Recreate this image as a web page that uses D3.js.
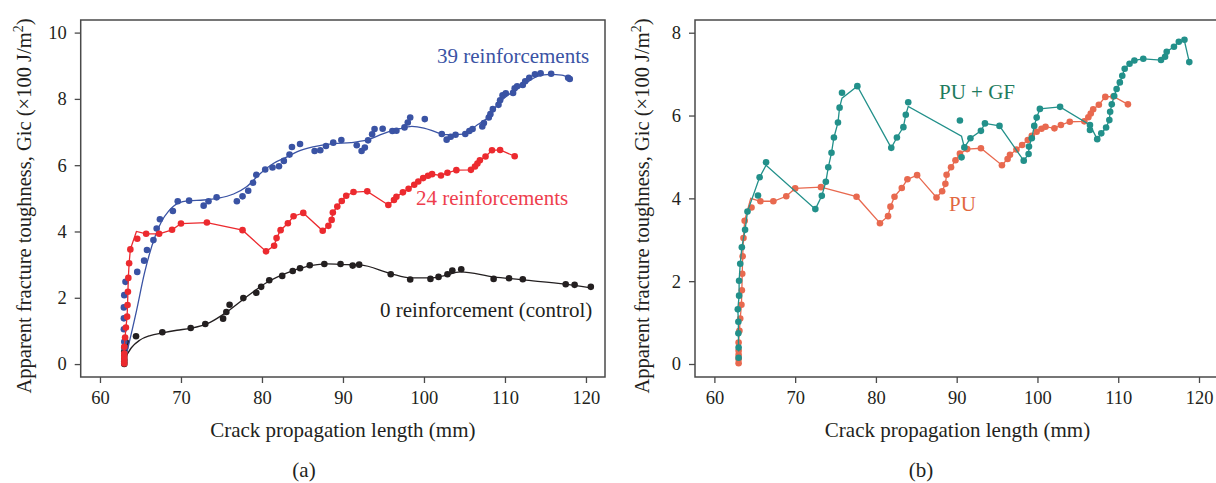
<!DOCTYPE html>
<html><head><meta charset="utf-8">
<script src="https://cdn.jsdelivr.net/npm/d3@7"></script>
<style>
body{margin:0;background:#fff}
svg{display:block}
text{font-family:"Liberation Serif","Times New Roman",serif}
</style>
</head><body>
<svg id="c" width="1216" height="483"></svg>
<script>
// ---------- DATA (x = crack length mm, y = Gic ×100 J/m²) ----------
const xTicks = [60, 70, 80, 90, 100, 110, 120];
const yTicksA = [0, 2, 4, 6, 8, 10];
const yTicksB = [0, 2, 4, 6, 8];

// Panel (a): 39 reinforcements (dots + smooth fit)
const reinf39 = [[63.0,0.5],[63.0,0.67],[62.95,1.05],[62.95,1.38],[62.95,1.71],[63.0,2.08],[63.15,2.48],
[64.6,2.78],[65.45,3.12],[65.8,3.44],[66.6,3.74],[67.0,4.09],[67.4,4.37],[69.0,4.62],[69.6,4.91],[71.0,4.93],
[72.8,4.78],[73.4,4.91],[74.4,5.03],[76.9,4.91],[77.6,5.06],[78.3,5.23],[78.9,5.47],[79.3,5.71],[80.4,5.87],
[81.3,5.93],[82.1,5.97],[82.7,6.13],[83.4,6.32],[83.7,6.55],[84.7,6.64],[86.5,6.43],[87.2,6.45],[87.9,6.58],
[88.8,6.68],[89.8,6.76],[91.7,6.60],[92.3,6.43],[92.7,6.53],[93.1,6.75],[93.6,6.93],[93.9,7.09],[94.9,7.10],
[96.1,7.03],[96.6,7.04],[97.6,7.14],[98.0,7.29],[98.3,7.44],[100.1,7.39],[102.2,6.94],[102.8,6.77],[103.3,6.86],
[103.9,6.92],[105.1,6.94],[105.6,7.03],[106.0,7.09],[107.2,7.17],[107.4,7.27],[108.0,7.44],[108.2,7.54],
[108.5,7.69],[109.2,7.82],[109.4,7.96],[109.7,8.11],[110.1,8.17],[111.0,8.18],[111.2,8.32],[111.5,8.38],
[112.2,8.42],[112.5,8.53],[113.0,8.64],[113.7,8.74],[114.4,8.77],[115.7,8.76],[117.8,8.64],[118.0,8.60]];
const reinf39Fit = [[63.3,0.33],[64.5,1.6],[65.5,2.75],[66.8,3.85],[67.6,4.3],[68.5,4.62],[69.6,4.85],[71.0,4.93],
[72.8,4.95],[74.5,5.0],[76.5,5.13],[78.1,5.35],[79.8,5.75],[81.4,6.05],[83.1,6.25],[84.3,6.4],[86.3,6.55],
[88.8,6.65],[91.0,6.68],[93.0,6.76],[95.0,6.95],[97.0,7.1],[98.5,7.17],[100.0,7.12],[101.5,7.0],[102.6,6.92],
[104.9,6.94],[106.6,7.22],[108.2,7.51],[109.0,7.8],[110.7,8.17],[112.3,8.42],[114.0,8.68],[115.6,8.74],
[117.0,8.72],[118.0,8.62]];

// Panel (a) 24 reinforcements = panel (b) PU (same test data)
const pu = [[63.0,0.02],[63.0,0.12],[63.0,0.22],[63.0,0.32],[63.0,0.52],[63.1,0.8],[63.2,1.1],[63.35,1.43],
[63.4,1.78],[63.45,2.18],[63.5,2.6],[63.6,3.04],[63.75,3.46],[64.6,3.78],[65.7,3.93],[67.3,3.93],[68.9,4.05],
[70.0,4.24],[73.2,4.27],[77.6,4.04],[80.5,3.40],[81.5,3.57],[81.8,3.80],[82.3,4.04],[83.2,4.25],[83.9,4.46],
[85.1,4.56],[87.5,4.02],[88.2,4.17],[88.6,4.35],[88.75,4.57],[89.3,4.75],[89.85,4.92],[90.4,5.08],[91.3,5.19],
[93.0,5.21],[95.6,4.80],[96.3,4.95],[96.6,5.05],[97.4,5.18],[98.1,5.29],[98.8,5.41],[99.3,5.51],[99.9,5.61],
[100.5,5.68],[101.0,5.73],[102.1,5.69],[102.9,5.77],[104.0,5.85],[105.8,5.86],[106.3,5.96],[106.6,6.05],
[106.9,6.15],[107.6,6.26],[108.4,6.45],[109.4,6.46],[111.2,6.27]];
const puPeak = [64.5, 4.0]; // line vertex without marker

// Panel (a): 0 reinforcement (control)
const reinf0 = [[63.0,0.0],[63.0,0.08],[63.0,0.15],[63.0,0.25],[63.0,0.38],[63.1,0.5],[63.2,0.66],[64.45,0.84],
[67.7,0.96],[71.2,1.09],[73.0,1.21],[75.2,1.37],[75.6,1.57],[76.0,1.79],[77.7,1.99],[79.3,2.15],[79.9,2.33],
[80.9,2.53],[82.5,2.66],[83.8,2.81],[84.7,2.89],[85.9,2.98],[87.7,3.02],[89.7,3.02],[91.2,2.97],[92.0,3.00],
[95.9,2.71],[98.3,2.55],[100.8,2.57],[101.8,2.63],[102.9,2.71],[103.5,2.82],[104.6,2.86],[108.6,2.57],
[110.5,2.59],[112.2,2.56],[117.5,2.41],[118.6,2.39],[120.6,2.33]];
const reinf0Fit = [[63.3,0.27],[63.9,0.5],[64.9,0.72],[66.2,0.86],[67.7,0.94],[69.5,1.02],[71.2,1.08],[73.6,1.26],
[75.7,1.58],[78.1,2.03],[80.6,2.46],[83.1,2.75],[85.5,2.94],[88.0,3.02],[90.5,3.0],[92.1,2.99],[95.9,2.73],
[98.3,2.6],[100.8,2.6],[102.4,2.66],[104.5,2.78],[108.6,2.63],[112.2,2.54],[117.5,2.41],[120.6,2.3]];

// Panel (b): PU + GF (markers and connecting line)
const puGf = [[63.0,0.15],[63.0,0.4],[62.97,0.74],[62.97,1.02],[62.9,1.32],[63.06,1.65],[63.06,2.01],[63.2,2.42],
[63.4,2.82],[63.8,3.24],[64.1,3.68],[65.4,4.07],[65.6,4.51],[66.4,4.87],[72.5,3.74],[73.3,4.06],[73.8,4.40],
[74.1,4.75],[74.5,5.10],[74.8,5.47],[75.3,5.83],[75.5,6.19],[75.8,6.55],[77.7,6.71],[81.9,5.22],[82.6,5.47],
[83.4,5.72],[83.7,6.02],[84.0,6.32],[90.4,5.88],[90.6,4.99],[90.95,5.23],[91.7,5.45],[93.0,5.63],[93.5,5.81],
[95.3,5.75],[98.3,4.91],[98.9,5.07],[98.95,5.25],[99.3,5.45],[99.6,5.75],[99.9,5.95],[100.3,6.16],[102.8,6.21],
[106.5,5.77],[106.5,5.65],[107.4,5.43],[107.9,5.57],[108.5,5.71],[108.9,5.89],[109.0,6.09],[109.2,6.27],
[109.5,6.47],[109.8,6.64],[110.2,6.80],[110.5,6.96],[110.8,7.13],[111.4,7.25],[112.0,7.33],[113.1,7.37],
[115.3,7.34],[115.8,7.42],[116.0,7.54],[116.9,7.66],[117.5,7.78],[118.2,7.83],[118.8,7.29]];
const puGfLine = [[63.0,0.3],[62.97,0.74],[62.97,1.02],[62.9,1.32],[63.06,1.65],[63.06,2.01],[63.2,2.42],[63.4,2.82],
[63.8,3.24],[64.1,3.68],[65.6,4.51],[66.4,4.8],[72.5,3.74],[73.3,4.06],[73.8,4.40],[74.1,4.75],[74.5,5.10],
[74.8,5.47],[75.3,5.83],[75.5,6.19],[75.8,6.42],[77.7,6.71],[81.9,5.22],[82.6,5.47],[83.4,5.72],[83.7,6.02],
[84.0,6.22],[90.6,5.5],[90.95,5.23],[91.7,5.45],[93.0,5.63],[93.5,5.81],[95.3,5.75],[98.3,4.91],[98.9,5.07],
[98.95,5.25],[99.3,5.45],[99.6,5.75],[99.9,5.95],[100.3,6.16],[102.8,6.21],[106.5,5.77],[107.4,5.43],
[107.9,5.57],[108.5,5.71],[108.9,5.89],[109.0,6.09],[109.2,6.27],[109.5,6.47],[109.8,6.64],[110.2,6.80],
[110.5,6.96],[110.8,7.13],[111.4,7.25],[112.0,7.33],[113.1,7.37],[115.3,7.34],[115.8,7.42],[116.0,7.54],
[116.9,7.66],[117.5,7.78],[118.2,7.8],[118.8,7.29]];

// ---------- DRAWING ----------
const svg = d3.select("#c");
const FRAME = "#4a4a4a";
const C = {blue:"#3a53a4", red:"#ec2a2f", redText:"#ee3d4d", black:"#231f20",
           teal:"#22908a", tealText:"#1e7b5e", salmon:"#e8694f", salmonText:"#e2683f"};

const puLine = pu.slice(0, 13).concat([puPeak], pu.slice(14));

function panel(o) {
  const g = svg.append("g");
  const x = d3.scaleLinear().domain(o.xd).range(o.xr);
  const y = d3.scaleLinear().domain(o.yd).range([377, 20]);
  const clipId = "clip" + o.id;
  svg.append("clipPath").attr("id", clipId).append("rect")
    .attr("x", o.xr[0]).attr("y", 20).attr("width", o.xr[1]-o.xr[0]).attr("height", 357);

  const ax = g.append("g").attr("transform", "translate(0,377)")
    .call(d3.axisBottom(x).tickValues(xTicks).tickSize(6).tickPadding(8).tickSizeOuter(0));
  const ay = g.append("g").attr("transform", `translate(${o.xr[0]},0)`)
    .call(d3.axisLeft(y).tickValues(o.yt).tickSize(6).tickPadding(8).tickSizeOuter(0));
  [ax, ay].forEach(a => {
    a.select(".domain").remove();
    a.selectAll(".tick line").attr("stroke", FRAME).attr("stroke-width", 1.3);
    a.selectAll(".tick text").attr("font-size", 18.5).attr("fill", "#231f20")
      .style("font-family", '"Liberation Serif",serif');
  });

  if (o.fullBox) {
    g.append("rect").attr("x", o.xr[0]).attr("y", 20).attr("width", o.xr[1]-o.xr[0]).attr("height", 357)
      .attr("fill", "none").attr("stroke", FRAME).attr("stroke-width", 1.5);
  } else {
    g.append("path").attr("d", `M1220,20H${o.xr[0]}V377H1220`)
      .attr("fill", "none").attr("stroke", FRAME).attr("stroke-width", 1.5);
  }

  const plot = g.append("g").attr("clip-path", `url(#${clipId})`);
  const line = d3.line().x(d => x(d[0])).y(d => y(d[1]));
  const sline = d3.line().x(d => x(d[0])).y(d => y(d[1])).curve(d3.curveMonotoneX);

  o.series.forEach(s => {
    plot.append("path").datum(s.line).attr("d", s.smooth ? sline : line)
      .attr("fill", "none").attr("stroke", s.color).attr("stroke-width", 1.3);
    plot.append("g").selectAll("circle").data(s.dots).join("circle")
      .attr("cx", d => x(d[0])).attr("cy", d => y(d[1])).attr("r", 3.3).attr("fill", s.color);
  });

  o.labels.forEach(l => {
    g.append("text").attr("x", l.x).attr("y", l.y).attr("fill", l.color)
      .attr("font-size", 21).text(l.t);
  });

  g.append("text").attr("x", (o.xr[0] + Math.min(o.xr[1], 1220)) / 2).attr("y", 437)
    .attr("text-anchor", "middle").attr("font-size", 21).attr("fill", "#231f20")
    .text("Crack propagation length (mm)");
  const yl = g.append("text").attr("transform", `translate(${o.ylx},206) rotate(-90)`)
    .attr("text-anchor", "middle").attr("font-size", 20.5).attr("fill", "#231f20");
  yl.append("tspan").text("Apparent fracture toughness, Gic (×100 J/m");
  yl.append("tspan").attr("dy", -8).attr("font-size", 14).text("2");
  yl.append("tspan").attr("dy", 8).text(")");

  g.append("text").attr("x", o.capX).attr("y", 477).attr("text-anchor", "middle")
    .attr("font-size", 21).attr("fill", "#231f20").text(o.cap);
}

panel({
  id: "a", xd: [57.62, 122.35], xr: [80.7, 605], yd: [-0.39, 10.38], yt: yTicksA, fullBox: true,
  ylx: 31, capX: 304, cap: "(a)",
  series: [
    {dots: reinf0, line: reinf0Fit, color: C.black, smooth: true},
    {dots: reinf39, line: reinf39Fit, color: C.blue, smooth: true},
    {dots: pu, line: puLine, color: C.red, smooth: false}
  ],
  labels: [
    {t: "39 reinforcements", x: 437, y: 63, color: C.blue},
    {t: "24 reinforcements", x: 416, y: 205, color: C.redText},
    {t: "0 reinforcement (control)", x: 380, y: 317, color: C.black}
  ]
});

panel({
  id: "b", xd: [57.6, 122.6], xr: [695, 1220], yd: [-0.314, 8.307], yt: yTicksB, fullBox: false,
  ylx: 649, capX: 921, cap: "(b)",
  series: [
    {dots: pu, line: puLine, color: C.salmon, smooth: false},
    {dots: puGf, line: puGfLine, color: C.teal, smooth: false}
  ],
  labels: [
    {t: "PU + GF", x: 939, y: 99, color: C.tealText},
    {t: "PU", x: 949, y: 211, color: C.salmonText}
  ]
});
</script>
</body></html>
